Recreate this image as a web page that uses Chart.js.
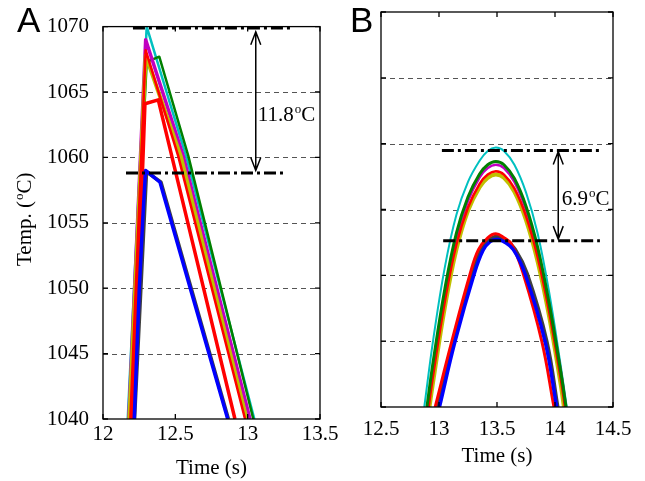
<!DOCTYPE html>
<html>
<head>
<meta charset="utf-8">
<script src="https://cdn.jsdelivr.net/npm/chart.js@4.4.1/dist/chart.umd.min.js"></script>
<style>
  html, body { margin: 0; padding: 0; background: #fff; }
  #wrap { position: relative; width: 645px; height: 481px; overflow: hidden; }
  canvas { position: absolute; top: 0; }
  #chartA { left: 0; }
  #chartB { left: 330px; }
</style>
</head>
<body>
<div id="wrap">
  <canvas id="chartA" width="345" height="481"></canvas>
  <canvas id="chartB" width="315" height="481"></canvas>
</div>
<script>
// ---- panel A data (time s, temp C) ----
const aTicksX = [12, 12.5, 13, 13.5];
const aTicksY = [1040, 1045, 1050, 1055, 1060, 1065, 1070];

const aCyanT = [12.171, 12.302, 12.574, 13.046];
const aCyanV = [1040, 1070.0, 1060.1, 1040];
const aMagentaT = [12.178, 12.295, 12.555, 13.016];
const aMagentaV = [1040, 1069.0, 1060.1, 1040];
const aRedHiT = [12.189, 12.295, 12.520, 12.982];
const aRedHiV = [1040, 1068.2, 1060.1, 1040];
const aYellowT = [12.182, 12.295, 12.537, 12.993];
const aYellowV = [1040, 1067.8, 1060.1, 1040];
const aGreenT = [12.180, 12.302, 12.389, 12.590, 13.039];
const aGreenV = [1040, 1067.3, 1067.7, 1060.1, 1040];
const aRedLoT = [12.198, 12.244, 12.272, 12.290, 12.382, 12.695, 12.912];
const aRedLoV = [1040, 1050.0, 1058.6, 1064.1, 1064.4, 1050.0, 1040];
const aBlueT = [12.216, 12.251, 12.274, 12.294, 12.394, 12.603, 12.862];
const aBlueV = [1040, 1050.0, 1055.1, 1059.0, 1058.1, 1050.0, 1040];
const aBlackT = [12.218, 12.301, 12.401, 12.867];
const aBlackV = [1040, 1058.9, 1058.1, 1040];

// ---- panel B data ----
const bTicksX = [12.5, 13, 13.5, 14, 14.5];
const bTicksY = [1020, 1025, 1030, 1035, 1040, 1045, 1050];

const bCyanT = [12.873, 12.95, 13.05, 13.15, 13.25, 13.35, 13.42, 13.49, 13.56, 13.65, 13.75, 13.85, 13.95, 14.05, 14.101];
const bCyanV = [1020.0, 1025.1, 1030.6, 1034.6, 1037.1, 1038.7, 1039.45, 1039.7, 1039.45, 1038.4, 1036.3, 1033.2, 1028.7, 1023.1, 1020.0];
const bGreenT = [12.896, 12.95, 13.05, 13.15, 13.25, 13.35, 13.42, 13.49, 13.56, 13.65, 13.75, 13.85, 13.95, 14.05, 14.095];
const bGreenV = [1020.0, 1023.45, 1028.95, 1033.2, 1035.95, 1037.7, 1038.4, 1038.65, 1038.4, 1037.35, 1035.25, 1032.15, 1027.85, 1022.65, 1020.0];
const bMagentaT = [12.905, 12.95, 13.05, 13.15, 13.25, 13.35, 13.42, 13.49, 13.56, 13.65, 13.75, 13.85, 13.95, 14.05, 14.095];
const bMagentaV = [1020.0, 1022.9, 1028.5, 1032.85, 1035.65, 1037.45, 1038.15, 1038.4, 1038.15, 1037.1, 1035.0, 1031.9, 1027.8, 1022.7, 1020.0];
const bRedHiT = [12.911, 12.95, 13.05, 13.15, 13.25, 13.35, 13.42, 13.49, 13.56, 13.65, 13.75, 13.85, 13.95, 14.05, 14.086];
const bRedHiV = [1020.0, 1022.45, 1028.0, 1032.35, 1035.15, 1036.95, 1037.65, 1037.9, 1037.65, 1036.6, 1034.5, 1031.4, 1027.2, 1022.1, 1020.0];
const bYellowT = [12.918, 12.95, 13.05, 13.15, 13.25, 13.35, 13.42, 13.49, 13.56, 13.65, 13.75, 13.85, 13.95, 14.05, 14.077];
const bYellowV = [1020.0, 1021.95, 1027.55, 1031.95, 1034.9, 1036.7, 1037.4, 1037.65, 1037.4, 1036.35, 1034.2, 1031.05, 1026.85, 1021.65, 1020.0];
const bRedLoT = [12.967, 13.111, 13.268, 13.34, 13.42, 13.49, 13.56, 13.627, 13.727, 13.886, 13.991];
const bRedLoV = [1020.0, 1025.0, 1030.1, 1031.95, 1032.85, 1033.15, 1032.85, 1032.35, 1030.1, 1025.0, 1020.0];
const bBlueT = [13.004, 13.139, 13.303, 13.38, 13.44, 13.5, 13.56, 13.641, 13.742, 13.914, 14.015];
const bBlueV = [1020.0, 1025.0, 1030.1, 1031.9, 1032.55, 1032.75, 1032.55, 1031.95, 1030.1, 1025.0, 1020.0];
const bBlackT = [12.989, 13.127, 13.290, 13.37, 13.44, 13.5, 13.57, 13.656, 13.759, 13.927, 14.022];
const bBlackV = [1020.0, 1025.0, 1030.1, 1032.0, 1032.7, 1032.95, 1032.7, 1031.95, 1030.1, 1025.0, 1020.0];

const SERIF = "'Liberation Serif', 'Times New Roman', serif";
const SANS = "'Liberation Sans', Arial, sans-serif";

function pts(ts, vs) { return ts.map((t, i) => ({ x: t, y: vs[i] })); }

function line(ts, vs, color, width, order, tension) {
  return {
    data: pts(ts, vs), borderColor: color, borderWidth: width, order: order,
    pointRadius: 0, fill: false, tension: tension, borderJoinStyle: 'round'
  };
}

// text with a superscript "o" before the C, e.g. 11.8 oC
function degText(ctx, x, y, before, after, size) {
  ctx.font = size + 'px ' + SERIF;
  ctx.fillText(before, x, y);
  x += ctx.measureText(before).width + 1;
  const small = Math.round(size * 0.62);
  ctx.font = small + 'px ' + SERIF;
  ctx.fillText('o', x, y - size * 0.38);
  x += ctx.measureText('o').width;
  ctx.font = size + 'px ' + SERIF;
  ctx.fillText(after, x, y);
  return x + ctx.measureText(after).width;
}

const matlabFrame = {
  id: 'matlabFrame',
  beforeDatasetsDraw(chart, args, opts) {
    const { ctx, chartArea: a, scales: { x, y } } = chart;
    ctx.save();
    ctx.strokeStyle = '#555';
    ctx.lineWidth = 1;
    ctx.setLineDash([5, 4]);
    opts.gridY.forEach(v => {
      if (v <= y.min || v >= y.max) return;
      const py = Math.round(y.getPixelForValue(v)) + 0.5;
      ctx.beginPath(); ctx.moveTo(a.left, py); ctx.lineTo(a.right, py); ctx.stroke();
    });
    ctx.restore();
  },
  afterDatasetsDraw(chart, args, opts) {
    const { ctx, chartArea: a, scales: { x, y } } = chart;
    ctx.save();
    // box and inward ticks
    ctx.strokeStyle = '#000';
    ctx.lineWidth = 1.3;
    ctx.setLineDash([]);
    ctx.strokeRect(a.left, a.top, a.right - a.left, a.bottom - a.top);
    ctx.beginPath();
    opts.gridX.forEach(v => {
      const px = x.getPixelForValue(v);
      ctx.moveTo(px, a.bottom); ctx.lineTo(px, a.bottom - 5);
      ctx.moveTo(px, a.top); ctx.lineTo(px, a.top + 5);
    });
    opts.gridY.forEach(v => {
      const py = y.getPixelForValue(v);
      ctx.moveTo(a.left, py); ctx.lineTo(a.left + 5, py);
      ctx.moveTo(a.right, py); ctx.lineTo(a.right - 5, py);
    });
    ctx.stroke();

    // dash-dot reference lines
    ctx.lineWidth = 3;
    ctx.setLineDash([12, 4, 3, 4]);
    opts.refLines.forEach(r => {
      const py = y.getPixelForValue(r.y);
      ctx.beginPath();
      ctx.moveTo(x.getPixelForValue(r.x0), py);
      ctx.lineTo(x.getPixelForValue(r.x1), py);
      ctx.stroke();
    });

    // double-headed arrow
    ctx.setLineDash([]);
    ctx.lineWidth = 1.5;
    const ax = x.getPixelForValue(opts.arrow.x);
    const ay0 = y.getPixelForValue(opts.arrow.y0);
    const ay1 = y.getPixelForValue(opts.arrow.y1);
    ctx.beginPath();
    ctx.moveTo(ax, ay0); ctx.lineTo(ax, ay1);
    ctx.moveTo(ax - 5, ay0 + 13); ctx.lineTo(ax, ay0); ctx.lineTo(ax + 5, ay0 + 13);
    ctx.moveTo(ax - 5, ay1 - 13); ctx.lineTo(ax, ay1); ctx.lineTo(ax + 5, ay1 - 13);
    ctx.stroke();

    // difference label
    ctx.fillStyle = '#000';
    ctx.textBaseline = 'alphabetic';
    ctx.textAlign = 'left';
    degText(ctx, x.getPixelForValue(opts.label.x), y.getPixelForValue(opts.label.y), opts.label.text, 'C', 21);

    // panel letter
    ctx.font = '35px ' + SANS;
    ctx.fillText(opts.letter, opts.letterX, 32);

    // rotated y title
    if (opts.yTitle) {
      ctx.translate(31, 218);
      ctx.rotate(-Math.PI / 2);
      ctx.font = '21px ' + SERIF;
      const w = ctx.measureText('Temp. (').width + 10 + ctx.measureText('C)').width;
      degText(ctx, -w / 2, 0, 'Temp. (', 'C)', 21);
    }
    ctx.restore();
  }
};

function xScale(min, max, ticks, height, tickPad, titlePad) {
  return {
    type: 'linear', min: min, max: max,
    afterFit: s => { s.height = height; },
    afterBuildTicks: s => { s.ticks = ticks.map(v => ({ value: v })); },
    grid: { display: false, drawTicks: false },
    border: { display: false },
    ticks: { color: '#000', font: { family: SERIF, size: 21 }, padding: tickPad, maxRotation: 0, autoSkip: false,
             callback: v => String(v) },
    title: { display: true, text: 'Time (s)', color: '#000', font: { family: SERIF, size: 21 }, padding: { top: 0, bottom: titlePad } }
  };
}

function yScale(min, max, ticks, width, showLabels) {
  return {
    type: 'linear', min: min, max: max,
    afterFit: s => { s.width = width; },
    afterBuildTicks: s => { s.ticks = ticks.map(v => ({ value: v })); },
    grid: { display: false, drawTicks: false },
    border: { display: false },
    ticks: { display: showLabels, color: '#000', font: { family: SERIF, size: 21 }, padding: 14,
             callback: v => String(v) }
  };
}

new Chart(document.getElementById('chartA'), {
  type: 'line',
  data: {
    datasets: [
      line(aBlueT, aBlueV, '#0000ff', 3.5, 1, 0),
      line(aRedLoT, aRedLoV, '#ff0000', 3.5, 2, 0),
      line(aBlackT, aBlackV, '#404040', 3.5, 3, 0),
      line(aRedHiT, aRedHiV, '#ff0000', 2.5, 4, 0),
      line(aYellowT, aYellowV, '#c0c000', 4, 5, 0),
      line(aMagentaT, aMagentaV, '#c000c0', 3.5, 6, 0),
      line(aGreenT, aGreenV, '#008000', 2.5, 7, 0),
      line(aCyanT, aCyanV, '#00c0c0', 2.5, 8, 0)
    ]
  },
  options: {
    responsive: false, animation: false, devicePixelRatio: 1,
    layout: { padding: { left: 0, top: 22, right: 25, bottom: 0 } },
    plugins: {
      legend: { display: false }, tooltip: { enabled: false },
      matlabFrame: {
        gridX: aTicksX, gridY: aTicksY,
        refLines: [{ y: 1069.9, x0: 12.207, x1: 13.306 }, { y: 1058.8, x0: 12.159, x1: 13.244 }],
        arrow: { x: 13.056, y0: 1069.6, y1: 1059.0 },
        label: { x: 13.07, y: 1062.77, text: '11.8' },
        letter: 'A', letterX: 17, yTitle: true
      }
    },
    scales: {
      x: xScale(12, 13.5, aTicksX, 62, 3, 0),
      y: yScale(1040, 1070, aTicksY, 103, true)
    }
  },
  plugins: [matlabFrame]
});

new Chart(document.getElementById('chartB'), {
  type: 'line',
  data: {
    datasets: [
      line(bBlueT, bBlueV, '#0000ff', 3.5, 1, 0.4),
      line(bRedLoT, bRedLoV, '#ff0000', 3, 2, 0.4),
      line(bBlackT, bBlackV, '#404040', 4, 3, 0.4),
      line(bGreenT, bGreenV, '#008000', 3, 4, 0.4),
      line(bRedHiT, bRedHiV, '#ff0000', 2.5, 5, 0.4),
      line(bMagentaT, bMagentaV, '#c000c0', 2.5, 6, 0.4),
      line(bYellowT, bYellowV, '#c0c000', 4, 7, 0.4),
      line(bCyanT, bCyanV, '#00c0c0', 2, 8, 0.4)
    ]
  },
  options: {
    responsive: false, animation: false, devicePixelRatio: 1,
    layout: { padding: { left: 0, top: 12, right: 32, bottom: 0 } },
    plugins: {
      legend: { display: false }, tooltip: { enabled: false },
      matlabFrame: {
        gridX: bTicksX, gridY: bTicksY,
        refLines: [{ y: 1039.48, x0: 13.025, x1: 14.379 }, { y: 1032.63, x0: 13.036, x1: 14.387 }],
        arrow: { x: 14.028, y0: 1039.4, y1: 1032.75 },
        label: { x: 14.058, y: 1035.36, text: '6.9' },
        letter: 'B', letterX: 20, yTitle: false
      }
    },
    scales: {
      x: xScale(12.5, 14.5, bTicksX, 74, 10, 12),
      y: yScale(1020, 1050, bTicksY, 51, false)
    }
  },
  plugins: [matlabFrame]
});
</script>
</body>
</html>
